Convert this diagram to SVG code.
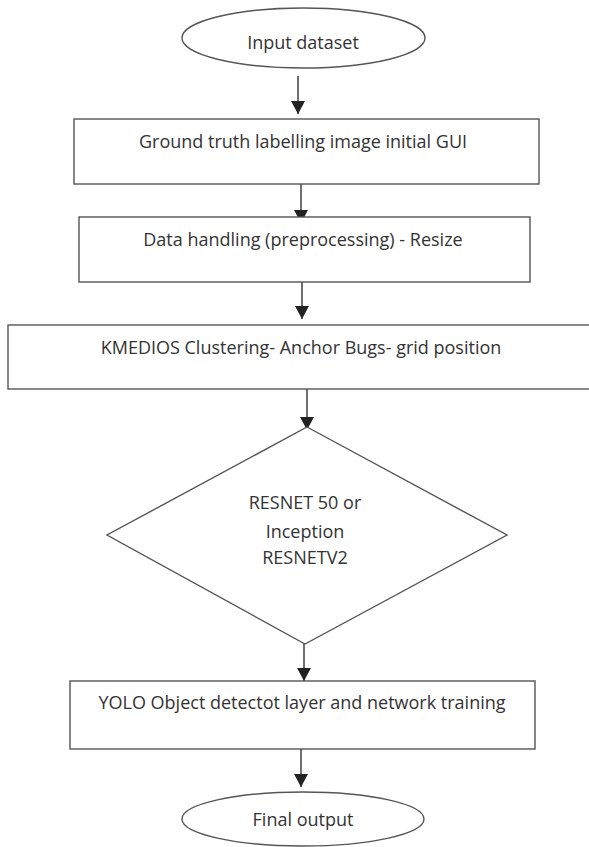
<svg xmlns="http://www.w3.org/2000/svg" width="589" height="847" viewBox="0 0 589 847">
  <style>
    .shape { fill: #ffffff; stroke: #555555; stroke-width: 1.4; }
    .label { font-family: "Open Sans", "Liberation Sans", Arial, sans-serif; font-size: 18px; fill: #333333; text-anchor: middle; }
    .conn { stroke: #333333; stroke-width: 1.4; fill: none; marker-end: url(#arrow); }
  </style>
  <defs>
    <marker id="arrow" markerWidth="13" markerHeight="16" refX="13" refY="8" orient="auto" markerUnits="userSpaceOnUse">
      <path d="M0,1 L13,8 L0,15 Z" fill="#222222"/>
    </marker>
  </defs>
  <rect width="589" height="847" fill="#ffffff"/>

  <g id="connectors">
    <line class="conn" x1="298" y1="76" x2="298" y2="114"/>
    <line class="conn" x1="301" y1="184" x2="301" y2="223"/>
    <line class="conn" x1="302" y1="282" x2="302" y2="319"/>
    <line class="conn" x1="307" y1="389" x2="307" y2="430"/>
    <line class="conn" x1="304" y1="644" x2="304" y2="681"/>
    <line class="conn" x1="301" y1="749" x2="301" y2="787"/>
  </g>

  <g id="input">
    <ellipse class="shape" cx="303.5" cy="38" rx="121.5" ry="30"/>
    <text class="label" x="303" y="48.5">Input dataset</text>
  </g>

  <g id="ground-truth">
    <rect class="shape" x="74" y="119" width="465" height="65"/>
    <text class="label" x="303" y="148">Ground truth labelling image initial GUI</text>
  </g>

  <g id="data-handling">
    <rect class="shape" x="79" y="217" width="451" height="65"/>
    <text class="label" x="303" y="246">Data handling (preprocessing) - Resize</text>
  </g>

  <g id="kmedios">
    <rect class="shape" x="8" y="325" width="590" height="64"/>
    <text class="label" x="301" y="354">KMEDIOS Clustering- Anchor Bugs- grid position</text>
  </g>

  <g id="resnet">
    <polygon class="shape" points="307,427 507,535 305,644 107,535"/>
    <text class="label" x="305" y="509">RESNET 50 or</text>
    <text class="label" x="305" y="538">Inception</text>
    <text class="label" x="305" y="564">RESNETV2</text>
  </g>

  <g id="yolo">
    <rect class="shape" x="70" y="681" width="465" height="68"/>
    <text class="label" x="302" y="709">YOLO Object detectot layer and network training</text>
  </g>

  <g id="final">
    <ellipse class="shape" cx="303" cy="819" rx="121" ry="27"/>
    <text class="label" x="303" y="826">Final output</text>
  </g>
</svg>
